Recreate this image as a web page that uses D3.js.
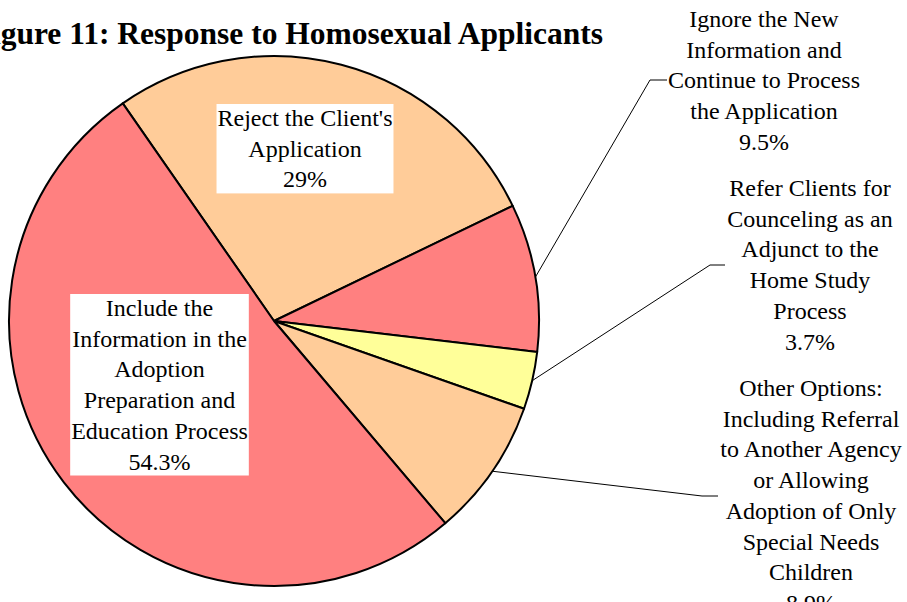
<!DOCTYPE html>
<html>
<head>
<meta charset="utf-8">
<script src="https://cdnjs.cloudflare.com/ajax/libs/d3/7.8.5/d3.min.js"></script>
<style>
    html, body { margin: 0; padding: 0; background: #fff; }
    svg { display: block; }
    text { font-family: "Liberation Serif", "Times New Roman", serif; fill: #000; }
</style>
</head>
<body>
<div id="chart"></div>
<script>
// slice data, in drawing order (clockwise)
const categories = [
    'Reject the Client\'s Application',
    'Ignore the New Information and Continue to Process the Application',
    'Refer Clients for Counceling as an Adjunct to the Home Study Process',
    'Other Options: Including Referral to Another Agency or Allowing Adoption of Only Special Needs Children',
    'Include the Information in the Adoption Preparation and Education Process'
];
const values = [29, 9.5, 3.7, 8.9, 54.3];
const valueLabels = ['29%', '9.5%', '3.7%', '8.9%', '54.3%'];
const labelLines = [
    ['Reject the Client\'s', 'Application'],
    ['Ignore the New', 'Information and', 'Continue to Process', 'the Application'],
    ['Refer Clients for', 'Counceling as an', 'Adjunct to the', 'Home Study', 'Process'],
    ['Other Options:', 'Including Referral', 'to Another Agency', 'or Allowing', 'Adoption of Only', 'Special Needs', 'Children'],
    ['Include the', 'Information in the', 'Adoption', 'Preparation and', 'Education Process']
];
const colors = ['#FFCC99', '#FF8080', '#FFFF99', '#FFCC99', '#FF8080'];

const width = 907, height = 602;
const cx = 274, cy = 321, radius = 265;
const lineHeight = 30.7;

// label layout: inside labels get a white box, outside ones a leader line
const labelLayout = [
    {x: 305, y: 126, inside: true},
    {x: 764, y: 27, elbow: [650, 80], end: 667},
    {x: 810, y: 196, elbow: [710, 265], end: 725},
    {x: 811, y: 396, elbow: [702, 496], end: 718},
    {x: 159.5, y: 316, inside: true}
];

const svg = d3.select('#chart').append('svg')
    .attr('width', width)
    .attr('height', height);

// title runs off the left edge, as in the original
svg.append('text')
    .attr('x', 603)
    .attr('y', 44)
    .attr('text-anchor', 'end')
    .style('font-size', '31.5px')
    .style('font-weight', 'bold')
    .text('Figure 11: Response to Homosexual Applicants');

const start = -34.8 * Math.PI / 180;
const pie = d3.pie()
    .sort(null)
    .startAngle(start)
    .endAngle(start + 2 * Math.PI);

const arcs = pie(values);
const arc = d3.arc().innerRadius(0).outerRadius(radius);

const g = svg.append('g')
    .attr('transform', 'translate(' + cx + ',' + cy + ')');

g.selectAll('path.slice')
    .data(arcs)
    .enter().append('path')
    .attr('class', 'slice')
    .attr('d', arc)
    .attr('fill', (d, i) => colors[i])
    .attr('stroke', '#000')
    .attr('stroke-width', 2)
    .attr('stroke-linejoin', 'round');

// leader lines
arcs.forEach((d, i) => {
    const lay = labelLayout[i];
    if (lay.inside) {
        return;
    }
    const mid = (d.startAngle + d.endAngle) / 2;
    const px = cx + radius * Math.sin(mid);
    const py = cy - radius * Math.cos(mid);
    svg.append('path')
        .attr('d', 'M' + px + ',' + py + ' L' + lay.elbow[0] + ',' + lay.elbow[1] + ' H' + lay.end)
        .attr('fill', 'none')
        .attr('stroke', '#000')
        .attr('stroke-width', 1);
});

// labels
arcs.forEach((d, i) => {
    const lay = labelLayout[i];
    const lg = svg.append('g');
    const rect = lg.append('rect').attr('fill', '#fff');
    const t = lg.append('text')
        .attr('text-anchor', 'middle')
        .style('font-size', '24px');
    labelLines[i].concat([valueLabels[i]]).forEach((line, j) => {
        t.append('tspan')
            .attr('x', lay.x)
            .attr('y', lay.y + j * lineHeight)
            .text(line);
    });
    if (lay.inside) {
        const bb = t.node().getBBox();
        rect.attr('x', bb.x - 1)
            .attr('y', bb.y - 1)
            .attr('width', bb.width + 2)
            .attr('height', bb.height + 2);
    } else {
        rect.remove();
    }
});
</script>
</body>
</html>
